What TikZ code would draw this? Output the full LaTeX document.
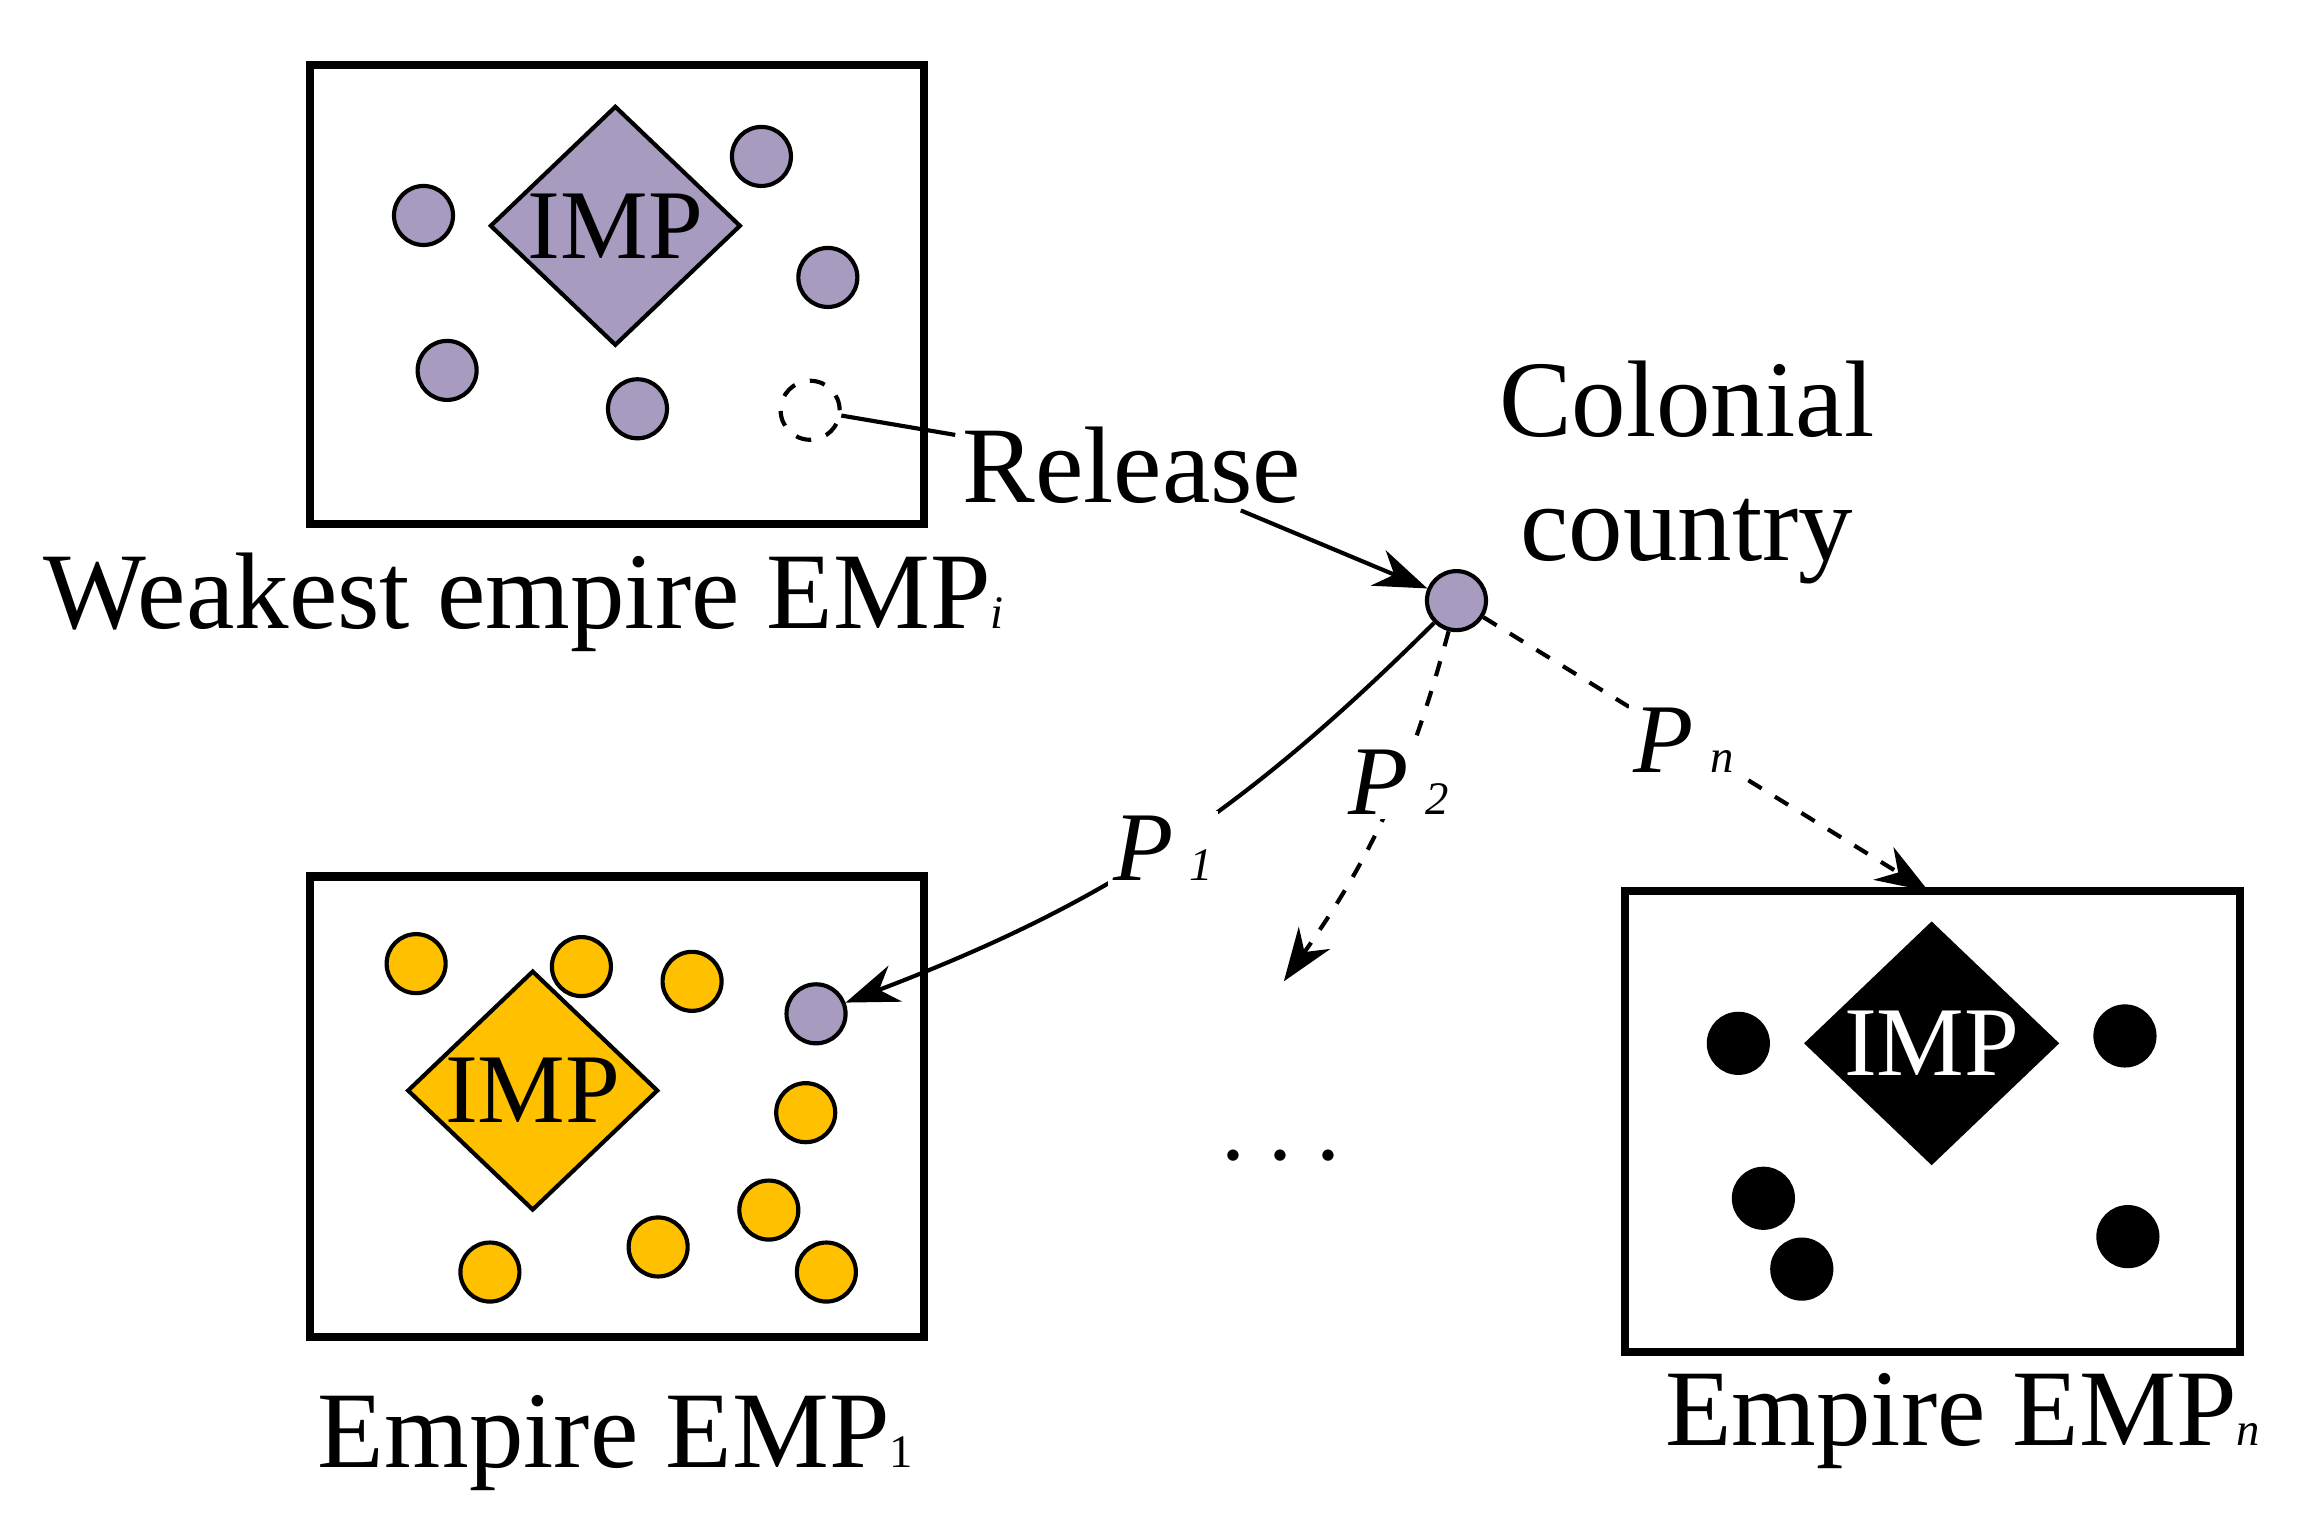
\documentclass[tikz,border=0pt]{standalone}
\usepackage{fontspec}
\setmainfont{Liberation Serif}
\usetikzlibrary{shapes.geometric, arrows.meta}
\definecolor{lilac}{HTML}{A89BC0}
\definecolor{amber}{HTML}{FFC000}
\tikzset{%
  >={Stealth[width=2.6mm,length=3.6mm]},
  % boxes, rulers and colonies
  empire/.style = {draw=black, line width=1.6pt},
  imp/.style = {diamond, draw=black, thick, minimum width=1.7cm,
    minimum height=1.26cm, inner sep=0pt, font=\fontsize{19}{19}\selectfont},
  col/.style = {circle, draw=black, thick, minimum size=0.4cm, inner sep=0pt},
  lbl/.style = {font=\fontsize{21}{24}\selectfont},
  plbl/.style = {fill=white, inner sep=1pt, font=\fontsize{19}{19}\selectfont\itshape},
}
\begin{document}
\begin{tikzpicture}[thick]
  \useasboundingbox (0,0) rectangle (15.6,-10.314);
  % weakest empire
  \draw[empire] (2.10,-0.44) rectangle (6.26,-3.55);
  \node (imp_w) [imp, fill=lilac] at (4.17,-1.53) {IMP};
  \foreach \x/\y [count=\i] in {2.87/1.46, 5.16/1.06, 5.61/1.88, 3.03/2.51, 4.32/2.77}
    \node (cw\i) [col, fill=lilac] at (\x,-\y) {};
  \node (gone) [col, dashed] at (5.49,-2.78) {};
  \node (weak) [lbl] at (3.55,-4.08) {Weakest empire EMP\textit{\small i}};
  % colonial country
  \node (colony) [col, fill=lilac] at (9.87,-4.07) {};
  \node (release) [lbl, fill=white, inner sep=1pt] at (7.67,-3.15) {Release};
  \node (country) [lbl, align=center] at (11.43,-3.2) {Colonial\\country};
  % empire 1
  \draw[empire] (2.10,-5.94) rectangle (6.26,-9.06);
  \node (imp_a) [imp, fill=amber] at (3.61,-7.39) {IMP};
  \foreach \x/\y [count=\i] in {2.82/6.53, 3.94/6.55, 4.69/6.65, 5.46/7.54,
      5.21/8.20, 4.46/8.45, 3.32/8.62, 5.60/8.62}
    \node (ca\i) [col, fill=amber] at (\x,-\y) {};
  \node (newcol) [col, fill=lilac] at (5.53,-6.87) {};
  \node (emp_a) [lbl] at (4.17,-9.78) {Empire EMP\small 1};
  % empire n
  \draw[empire] (11.01,-6.04) rectangle (15.18,-9.16);
  \node (imp_n) [imp, fill=black, text=white] at (13.09,-7.07) {IMP};
  \foreach \x/\y [count=\i] in {11.78/7.07, 14.40/7.02, 11.95/8.12, 12.21/8.60, 14.42/8.38}
    \node (cn\i) [col, fill=black] at (\x,-\y) {};
  \node (emp_n) [lbl] at (13.30,-9.63) {Empire EMP\textit{\small n}};
  \coordinate (topn) at (13.07,-6.04);
  \coordinate (drop) at (8.70,-6.65);
  \node (dots) [lbl] at (8.68,-7.85) {\textbf{$\cdots$}};
  % lines
  \draw (gone) -- (release);
  \draw[->] (release) -- (colony);
  \draw[->] (colony) to[bend left=12] node[plbl, pos=0.5] {P\,\small 1} (newcol);
  \draw[->, dashed] (colony) to[bend left=10] node[plbl, pos=0.4] {P\,\small 2} (drop);
  \draw[->, dashed] (colony) -- node[plbl, pos=0.45] {P\,\small n} (topn);
\end{tikzpicture}
\end{document}
